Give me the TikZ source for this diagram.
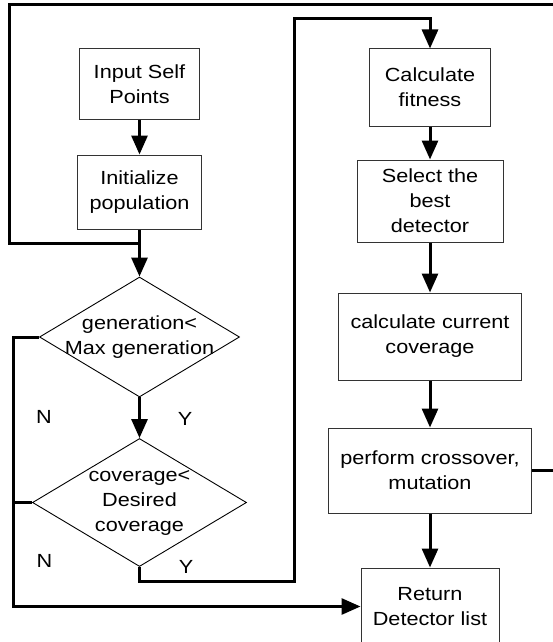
\documentclass[tikz,border=0pt]{standalone}
\usepackage{fontspec}
\setmainfont{Liberation Sans}[FakeStretch=1.14]
\usetikzlibrary{arrows.meta,shapes.geometric}
\begin{document}
\begin{tikzpicture}[x=1pt,y=-1pt,
  txt/.style={font=\fontsize{19}{25}\selectfont},
  box/.style={txt, draw=black!80, line width=1pt, rectangle, align=center, inner sep=0pt},
  dec/.style={draw=black, line width=0.9pt, diamond, inner sep=0pt},
  lbl/.style={txt, align=center, inner sep=0pt},
  flow/.style={line width=3pt},
  arr/.style={line width=3pt, -{Triangle[length=19pt,width=16pt]}},
]
\useasboundingbox (0,0) rectangle (553,642);
\clip (0,0) rectangle (553,642);

% left column
\node[box, minimum width=120pt, minimum height=70pt] (inp) at (139.5,84) {Input Self\\Points};
\node[box, minimum width=124pt, minimum height=74pt] (init) at (139.5,192) {Initialize\\population};
\node[dec, minimum width=200pt, minimum height=120pt] (d1) at (139.5,337) {};
\node[lbl] (d1t) at (d1) {generation<\\Max generation};
\node[dec, minimum width=214pt, minimum height=128pt] (d2) at (139.5,502.5) {};
\node[lbl] (d2t) at (d2) {coverage<\\Desired\\coverage};

% right column
\node[box, minimum width=121pt, minimum height=77pt] (calc) at (430,87.5) {Calculate\\fitness};
\node[box, minimum width=146pt, minimum height=82pt] (sel) at (430,201) {Select the\\best\\detector};
\node[box, minimum width=183pt, minimum height=87pt] (ccov) at (430,336.5) {calculate current\\coverage};
\node[box, minimum width=203pt, minimum height=85pt] (perf) at (430,470.5) {perform crossover,\\mutation};
\node[box, minimum width=138pt, minimum height=77pt] (ret) at (430,606.5) {Return\\Detector list};

% labels
\node[lbl] (n1) at (44,416.5) {N};
\node[lbl] (y1) at (185,419) {Y};
\node[lbl] (n2) at (44.5,560.5) {N};
\node[lbl] (y2) at (186,567) {Y};

% helper coordinates
\coordinate (j1) at (139.5,243);
\coordinate (c1) at (557,5);
\coordinate (lt) at (9,243);
\coordinate (yb) at (294,581);
\coordinate (yt) at (294,19);
\coordinate (nl) at (13,420);

% connectors
\draw[arr] (inp) -- (init);
\draw[arr] (init) -- (d1);
\draw[arr] (d1) -- (d2);
\draw[arr] (calc) -- (sel);
\draw[arr] (sel) -- (ccov);
\draw[arr] (ccov) -- (perf);
\draw[arr] (perf) -- (ret);

\draw[flow] (perf.east) -| (c1) -| (lt) -- (j1);
\draw[arr] (d2.south) |- (yb) -- (yt) -| (calc.north);
\draw[arr] (d1.west) -| (nl) |- (ret.west);
\draw[flow] (d2.west) -- (d2.west -| nl);
\end{tikzpicture}
\end{document}
